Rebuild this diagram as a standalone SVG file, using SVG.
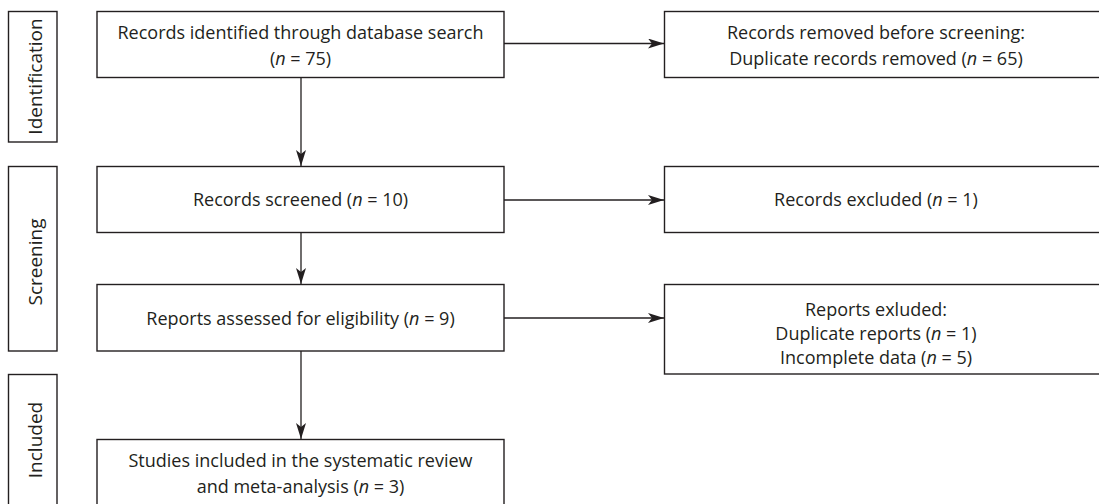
<svg xmlns="http://www.w3.org/2000/svg" width="1099" height="504" viewBox="0 0 1099 504">
<style>
.box{fill:#fff;stroke:#231f20;stroke-width:1.4}
.t{font-family:"Open Sans","Noto Sans",sans-serif;font-size:18px;fill:#231f20;text-anchor:middle}
.l{font-size:19px}
.c{stroke:#231f20;stroke-width:1.3;fill:none}
</style>
<defs>
<marker id="ah" viewBox="0 0 16 10" refX="16" refY="5" markerWidth="16" markerHeight="10" markerUnits="userSpaceOnUse" orient="auto">
<path d="M0,0 L16,5 L0,10 L4,5 Z" fill="#231f20"/>
</marker>
</defs>
<g id="stage-identification">
<rect class="box" x="8.5" y="11.5" width="48.5" height="130.5"/>
<text class="t l" transform="translate(42,76.5) rotate(-90)">Identification</text>
</g>
<g id="stage-screening">
<rect class="box" x="8.5" y="166.5" width="48.5" height="184.5"/>
<text class="t l" transform="translate(42,262) rotate(-90)">Screening</text>
</g>
<g id="stage-included">
<rect class="box" x="8.5" y="374.5" width="48.5" height="140"/>
<text class="t l" transform="translate(42,440) rotate(-90)">Included</text>
</g>
<g id="connectors">
<line class="c" x1="301" y1="77" x2="301" y2="166" marker-end="url(#ah)"/>
<line class="c" x1="301" y1="232" x2="301" y2="284" marker-end="url(#ah)"/>
<line class="c" x1="301" y1="351" x2="301" y2="439" marker-end="url(#ah)"/>
<line class="c" x1="504" y1="43.5" x2="664" y2="43.5" marker-end="url(#ah)"/>
<line class="c" x1="504" y1="200" x2="664" y2="200" marker-end="url(#ah)"/>
<line class="c" x1="504" y1="318" x2="664" y2="318" marker-end="url(#ah)"/>
</g>
<g id="n1">
<rect class="box" x="97" y="11.5" width="407" height="66"/>
<text class="t" x="300.5" y="38.5">Records identified through database search</text>
<text class="t" x="300.5" y="65">(<tspan font-style="italic">n</tspan> = 75)</text>
</g>
<g id="n2">
<rect class="box" x="664.5" y="11.5" width="440" height="66"/>
<text class="t" x="876" y="38.5">Records removed before screening:</text>
<text class="t" x="876" y="65">Duplicate records removed (<tspan font-style="italic">n</tspan> = 65)</text>
</g>
<g id="n3">
<rect class="box" x="97" y="166.5" width="407" height="66"/>
<text class="t" x="300.5" y="206">Records screened (<tspan font-style="italic">n</tspan> = 10)</text>
</g>
<g id="n4">
<rect class="box" x="664.5" y="166.5" width="440" height="66"/>
<text class="t" x="876" y="206">Records excluded (<tspan font-style="italic">n</tspan> = 1)</text>
</g>
<g id="n5">
<rect class="box" x="97" y="284.5" width="407" height="66.5"/>
<text class="t" x="300.5" y="325">Reports assessed for eligibility (<tspan font-style="italic">n</tspan> = 9)</text>
</g>
<g id="n6">
<rect class="box" x="664.5" y="284.5" width="440" height="89.5"/>
<text class="t" x="876" y="316">Reports exluded:</text>
<text class="t" x="876" y="340">Duplicate reports (<tspan font-style="italic">n</tspan> = 1)</text>
<text class="t" x="876" y="364">Incomplete data (<tspan font-style="italic">n</tspan> = 5)</text>
</g>
<g id="n7">
<rect class="box" x="97" y="439.5" width="407" height="75"/>
<text class="t" x="300.5" y="467">Studies included in the systematic review</text>
<text class="t" x="300.5" y="493">and meta-analysis (<tspan font-style="italic">n</tspan> = 3)</text>
</g>
</svg>
